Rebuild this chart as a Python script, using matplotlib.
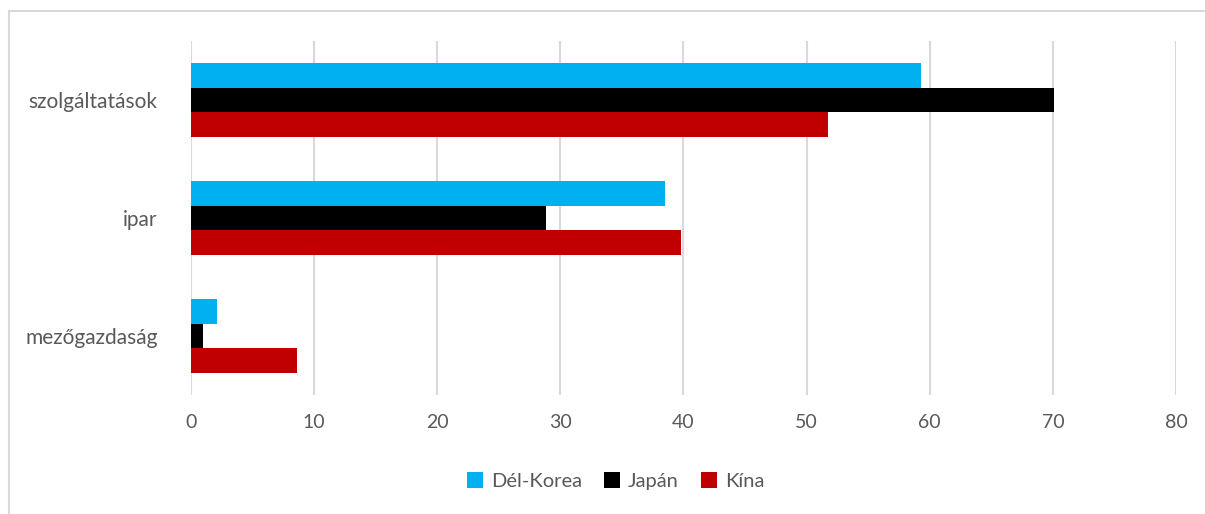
import matplotlib.pyplot as plt
import numpy as np
from matplotlib.patches import Rectangle

# Data (share of sectors, %)
categories = ["mezőgazdaság", "ipar", "szolgáltatások"]
series_names = ["Dél-Korea", "Japán", "Kína"]
del_korea = [2.1, 38.5, 59.3]
japan = [1.0, 28.8, 70.1]
kina = [8.6, 39.8, 51.7]
colors = ["#00B0F0", "#000000", "#C00000"]

plt.rcParams['font.family'] = ['Lato', 'DejaVu Sans']
text_color = "#595959"

fig = plt.figure(figsize=(12.05, 5.14), dpi=100)
ax = fig.add_axes([0.1585, 0.2315, 0.9759 - 0.1585, 0.9202 - 0.2315])

# outer chart border (light gray)
fig.patches.append(Rectangle((9 / 1205, -0.1), 1.2, 1 - 11 / 514 + 0.1,
                             transform=fig.transFigure, fill=False,
                             edgecolor="#D9D9D9", linewidth=1.5))

y = np.arange(len(categories))
h = 0.21
values = [del_korea, japan, kina]
for i, (name, vals) in enumerate(zip(series_names, values)):
    ax.barh(y + (1 - i) * h, vals, height=h, color=colors[i], label=name, zorder=3)

ax.set_xlim(0, 80)
ax.set_ylim(-0.5, 2.5)
ax.set_xticks(range(0, 81, 10))
ax.set_yticks(y)
ax.set_yticklabels(categories, fontsize=15)
ax.xaxis.grid(True, color="#D9D9D9", linewidth=1.5, zorder=0)
for s in ax.spines.values():
    s.set_visible(False)
ax.tick_params(axis="both", length=0, colors=text_color)
ax.tick_params(axis="x", pad=14, labelsize=14)
ax.tick_params(axis="y", pad=24)

fig.legend(loc="center", bbox_to_anchor=(0.511, 1 - 481 / 514), ncol=3,
           frameon=False, fontsize=14.5, handlelength=0.8, handleheight=0.8,
           handletextpad=0.4, columnspacing=1.1, labelcolor=text_color)

fig.savefig("out.png", dpi=100)
